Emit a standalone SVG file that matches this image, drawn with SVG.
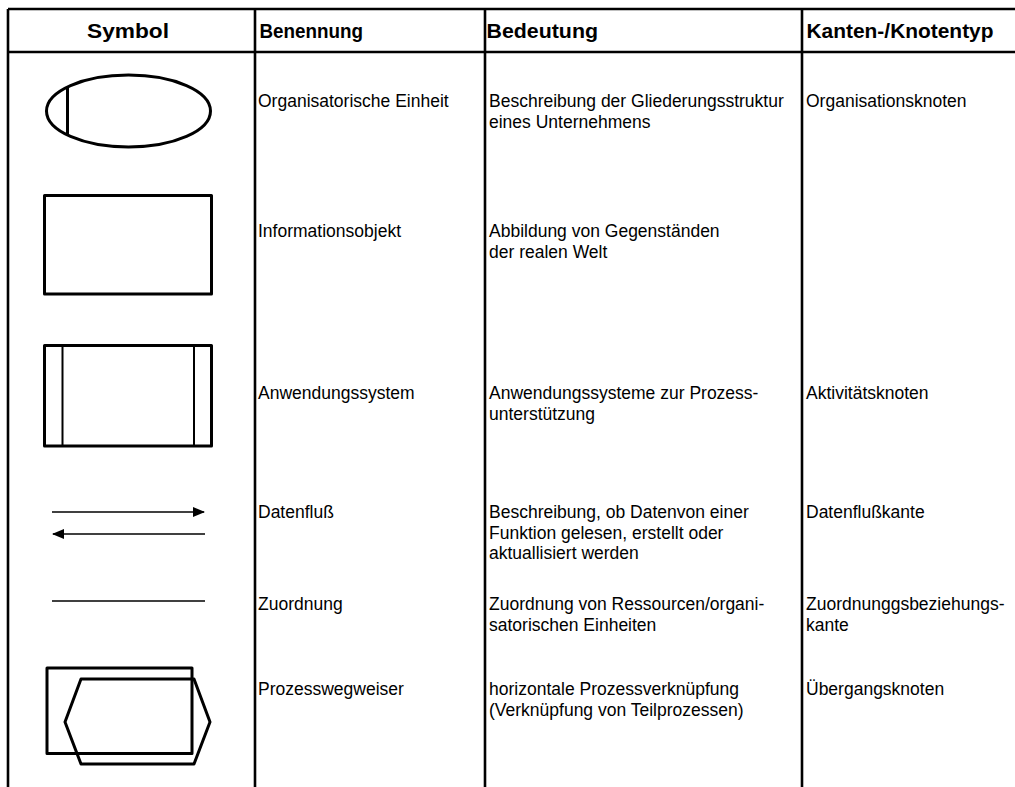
<svg xmlns="http://www.w3.org/2000/svg" width="1015" height="787" viewBox="0 0 1015 787">
  <style>
    .grid { stroke: #000; stroke-width: 2.6; fill: none; }
    .sym { stroke: #000; stroke-width: 3; fill: none; stroke-linejoin: round; }
    .thin { stroke: #000; stroke-width: 2; fill: none; }
    .flow { stroke: #000; stroke-width: 1.6; fill: none; }
    .hd { font-family: "Liberation Sans", Arial, sans-serif; font-size: 20px; font-weight: bold; fill: #000; }
    .tx { font-family: "Liberation Sans", Arial, sans-serif; font-size: 17.5px; fill: #000; }
  </style>
  <defs>
    <marker id="head" viewBox="0 0 12 10" refX="11" refY="5" markerWidth="12" markerHeight="10" markerUnits="userSpaceOnUse" orient="auto">
      <path d="M0,0 L12,5 L0,10 Z" fill="#000"/>
    </marker>
  </defs>
  <rect width="1015" height="787" fill="#fff"/>

  <!-- table grid -->
  <g id="grid" class="grid">
    <line x1="8" y1="9" x2="1015" y2="9"/>
    <line x1="8" y1="52" x2="1015" y2="52"/>
    <line x1="8" y1="9" x2="8" y2="787"/>
    <line x1="255" y1="9" x2="255" y2="787"/>
    <line x1="485" y1="9" x2="485" y2="787"/>
    <line x1="802" y1="9" x2="802" y2="787"/>
  </g>

  <!-- column headings -->
  <g id="header">
    <text class="hd" x="87" y="38" textLength="82" lengthAdjust="spacingAndGlyphs">Symbol</text>
    <text class="hd" x="259.5" y="38" textLength="103.5" lengthAdjust="spacingAndGlyphs">Benennung</text>
    <text class="hd" x="486.5" y="38" textLength="111.5" lengthAdjust="spacingAndGlyphs">Bedeutung</text>
    <text class="hd" x="806.5" y="38" textLength="187" lengthAdjust="spacingAndGlyphs">Kanten-/Knotentyp</text>
  </g>

  <g id="row-org">
    <ellipse class="sym" cx="128.5" cy="111" rx="82" ry="36"/>
    <line class="sym" x1="67.5" y1="88" x2="67.5" y2="134"/>
    <text class="tx" x="258" y="107">Organisatorische Einheit</text>
    <text class="tx" x="489" y="107">Beschreibung der Gliederungsstruktur</text>
    <text class="tx" x="489" y="127.5">eines Unternehmens</text>
    <text class="tx" x="806" y="107">Organisationsknoten</text>
  </g>

  <g id="row-info">
    <rect class="sym" x="44.5" y="195.5" width="167" height="98.5"/>
    <text class="tx" x="258" y="237">Informationsobjekt</text>
    <text class="tx" x="489" y="237">Abbildung von Gegenständen</text>
    <text class="tx" x="489" y="257.5">der realen Welt</text>
  </g>

  <g id="row-app">
    <rect class="sym" x="44.5" y="345.5" width="167" height="100.5"/>
    <line class="thin" x1="62.5" y1="345.5" x2="62.5" y2="446"/>
    <line class="thin" x1="194" y1="345.5" x2="194" y2="446"/>
    <text class="tx" x="258" y="399">Anwendungssystem</text>
    <text class="tx" x="489" y="399">Anwendungssysteme zur Prozess-</text>
    <text class="tx" x="489" y="419.5">unterstützung</text>
    <text class="tx" x="806" y="399">Aktivitätsknoten</text>
  </g>

  <g id="row-flow">
    <line class="flow" x1="52" y1="512" x2="204" y2="512" marker-end="url(#head)"/>
    <line class="flow" x1="205" y1="534" x2="53" y2="534" marker-end="url(#head)"/>
    <text class="tx" x="258" y="518">Datenfluß</text>
    <text class="tx" x="489" y="518">Beschreibung, ob Datenvon einer</text>
    <text class="tx" x="489" y="538.5">Funktion gelesen, erstellt oder</text>
    <text class="tx" x="489" y="559">aktuallisiert werden</text>
    <text class="tx" x="806" y="518">Datenflußkante</text>
  </g>

  <g id="row-assign">
    <line class="flow" x1="52" y1="601" x2="205" y2="601"/>
    <text class="tx" x="258" y="610">Zuordnung</text>
    <text class="tx" x="489" y="610">Zuordnung von Ressourcen/organi-</text>
    <text class="tx" x="489" y="630.5">satorischen Einheiten</text>
    <text class="tx" x="806" y="610">Zuordnunggsbeziehungs-</text>
    <text class="tx" x="806" y="630.5">kante</text>
  </g>

  <g id="row-route">
    <rect class="sym" x="47" y="668" width="145" height="85.5"/>
    <polygon class="sym" points="81,679 194,679 210,722 194,764 81,764 65,722"/>
    <text class="tx" x="258" y="695">Prozesswegweiser</text>
    <text class="tx" x="489" y="695">horizontale Prozessverknüpfung</text>
    <text class="tx" x="489" y="715.5">(Verknüpfung von Teilprozessen)</text>
    <text class="tx" x="806" y="695">Übergangsknoten</text>
  </g>
</svg>
